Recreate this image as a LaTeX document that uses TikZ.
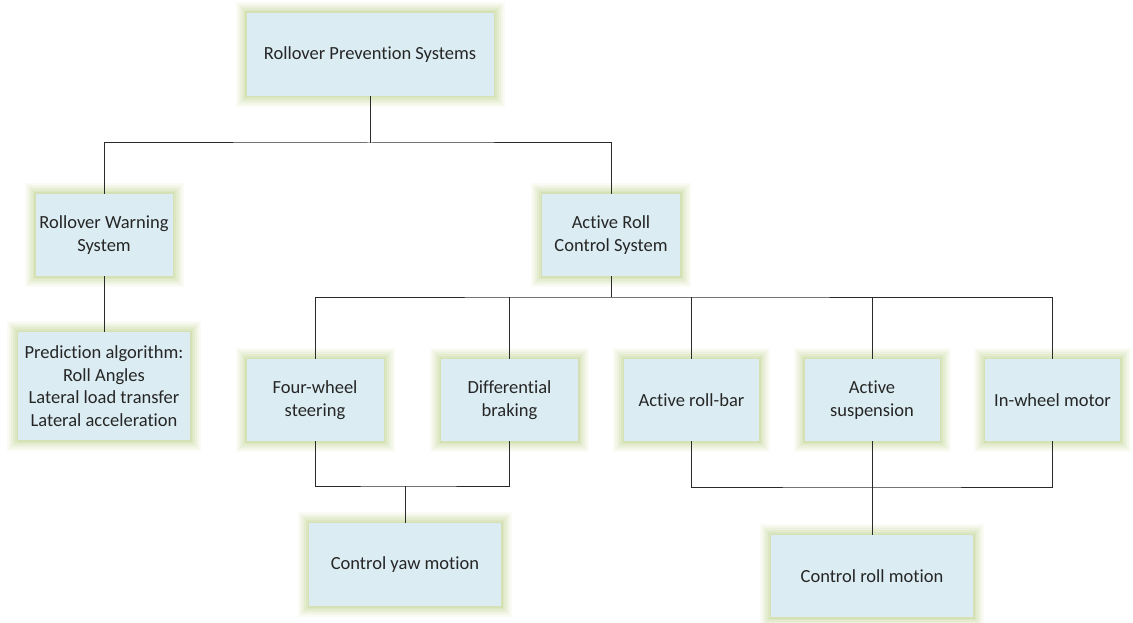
\documentclass[tikz,border=0pt]{standalone}
\usepackage{fontspec}
\setmainfont{Carlito}[Ligatures=NoCommon]
\definecolor{boxfill}{HTML}{DBEDF3}
\definecolor{glow}{HTML}{C8D99C}
\definecolor{txt}{HTML}{262626}
\definecolor{wire}{HTML}{2A2A2A}
\tikzset{
  box/.style={draw=none, fill=boxfill, inner sep=2pt, align=center,
    font=\fontsize{18.5}{22.5}\selectfont, text=txt,
    preaction={draw=glow, draw opacity=0.10, line width=22pt, rounded corners=9pt},
    preaction={draw=glow, draw opacity=0.12, line width=18pt, rounded corners=7pt},
    preaction={draw=glow, draw opacity=0.15, line width=14pt, rounded corners=5pt},
    preaction={draw=glow, draw opacity=0.2, line width=10pt, rounded corners=3pt},
    preaction={draw=glow, draw opacity=0.28, line width=6pt, rounded corners=2pt},
    preaction={draw=glow, draw opacity=0.35, line width=3pt}},
  wirestyle/.style={draw=wire, line width=1pt}
}
\begin{document}
\begin{tikzpicture}[x=1pt,y=-1pt]
\useasboundingbox[fill=white] (0,0) rectangle (1133,623);
\node[box, minimum width=247pt, minimum height=83pt] (top) at (370,54.5) {Rollover Prevention Systems};
\node[box, minimum width=137pt, minimum height=82pt] (warn) at (104,235) {Rollover Warning\\System};
\node[box, minimum width=172pt, minimum height=108pt] (pred) at (104,386) {Prediction algorithm:\\Roll Angles\\Lateral load transfer\\Lateral acceleration};
\node[box, minimum width=138pt, minimum height=82pt] (arcs) at (611,235) {Active Roll\\Control System};
\node[box, minimum width=137pt, minimum height=82pt] (four) at (315,400) {Four-wheel\\steering};
\node[box, minimum width=137pt, minimum height=82pt] (diff) at (509.5,400) {Differential\\braking};
\node[box, minimum width=135pt, minimum height=82pt] (rollbar) at (691.5,400) {Active roll-bar};
\node[box, minimum width=135pt, minimum height=82pt] (susp) at (872,400) {Active\\suspension};
\node[box, minimum width=135pt, minimum height=82pt] (inwheel) at (1052.5,400) {In-wheel motor};
\node[box, minimum width=192pt, minimum height=83pt] (yaw) at (405,564.5) {Control yaw motion};
\node[box, minimum width=202pt, minimum height=82pt] (roll) at (872,576) {Control roll motion};
\coordinate (j1) at (370,143);
\coordinate (j2) at (611,297);
\coordinate (j3) at (405,486);
\coordinate (j4) at (872,487);
\draw[wirestyle] (top.south) -- (j1);
\draw[wirestyle] (warn.north) |- (j1) -| (arcs.north);
\draw[wirestyle] (warn.south) -- (pred.north);
\draw[wirestyle] (arcs.south) -- (j2);
\draw[wirestyle] (four.north) |- (j2) -| (inwheel.north);
\draw[wirestyle] (diff.north) -- (diff.north |- j2);
\draw[wirestyle] (rollbar.north) -- (rollbar.north |- j2);
\draw[wirestyle] (susp.north) -- (susp.north |- j2);
\draw[wirestyle] (four.south) |- (j3) -| (diff.south);
\draw[wirestyle] (j3) -- (yaw.north);
\draw[wirestyle] (rollbar.south) |- (j4) -| (inwheel.south);
\draw[wirestyle] (susp.south) -- (roll.north);
\end{tikzpicture}
\end{document}
